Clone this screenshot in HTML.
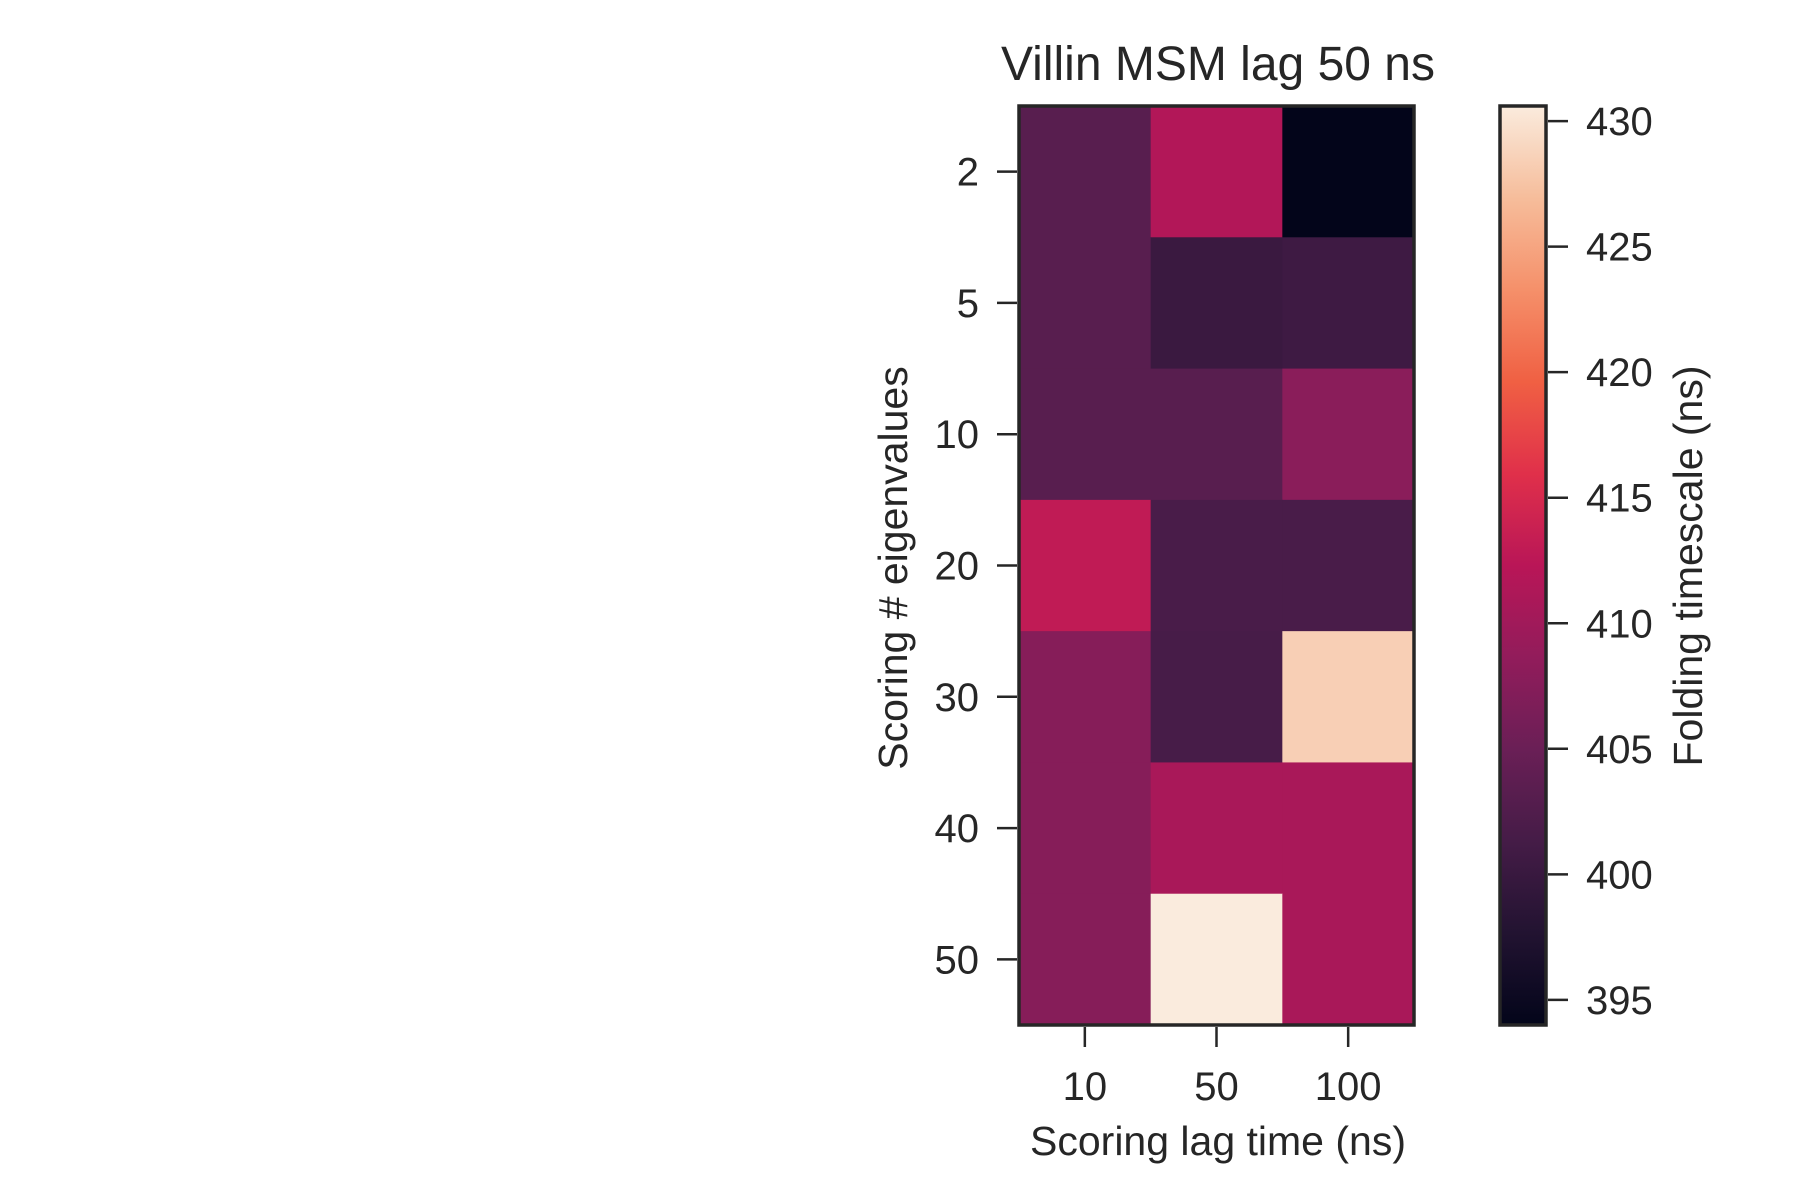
<!DOCTYPE html>
<html><head><meta charset="utf-8"><style>
html,body{margin:0;padding:0;background:#fff;}
svg{display:block;font-family:"Liberation Sans",Arial,sans-serif;fill:#262626;}
</style></head><body>
<svg id="chart" width="1800" height="1200" viewBox="0 0 1800 1200" xmlns="http://www.w3.org/2000/svg">
<defs><linearGradient id="cbgrad" x1="0" y1="1" x2="0" y2="0"></linearGradient></defs>
<rect width="1800" height="1200" fill="#fff"/>
<text x="1218" y="80" font-size="48" text-anchor="middle">Villin MSM lag 50 ns</text>
<g id="cells"></g>
<g id="axes"></g>
<text x="1218" y="1155" font-size="41" text-anchor="middle">Scoring lag time (ns)</text>
<text x="0" y="0" font-size="41" text-anchor="middle" transform="translate(907,568) rotate(-90)">Scoring # eigenvalues</text>
<rect x="1500" y="106" width="46" height="919" fill="url(#cbgrad)" stroke="#262626" stroke-width="3.5"/>
<g id="cbaxis"></g>
<text x="0" y="0" font-size="41" text-anchor="middle" transform="translate(1702,566) rotate(-90)">Folding timescale (ns)</text>
</svg>
<script>
const xCategories = ["10", "50", "100"];
const yCategories = ["2", "5", "10", "20", "30", "40", "50"];
const row2 = [403.2, 411.6, 394.0];
const row5 = [403.2, 400.2, 400.6];
const row10 = [403.2, 403.2, 407.9];
const row20 = [413.0, 401.7, 401.7];
const row30 = [407.5, 401.5, 428.4];
const row40 = [407.5, 410.8, 410.8];
const row50 = [407.5, 430.6, 410.8];
const values = [row2, row5, row10, row20, row30, row40, row50];
const colorbarTicks = [395, 400, 405, 410, 415, 420, 425, 430];
const vmin = 394.0, vmax = 430.6;

const NS = "http://www.w3.org/2000/svg";
const L = 1019, R = 1414, T = 106, B = 1025;
const cw = (R - L) / xCategories.length, ch = (B - T) / yCategories.length;
const stops = [[0,"#03051a"],[0.1,"#221331"],[0.2,"#451c47"],[0.3,"#6a1f56"],[0.4,"#921c5b"],[0.5,"#b91657"],[0.6,"#e0304a"],[0.7,"#f06043"],[0.8,"#f5906a"],[0.9,"#f6bd9b"],[1,"#faebdd"]];
function hex(c){return [1,3,5].map(i=>parseInt(c.substr(i,2),16));}
function cmap(t){t=Math.max(0,Math.min(1,t));for(let i=1;i<stops.length;i++){if(t<=stops[i][0]){const a=stops[i-1],b=stops[i];const f=(t-a[0])/(b[0]-a[0]);const ca=hex(a[1]),cb=hex(b[1]);return "rgb("+ca.map((v,k)=>Math.round(v+(cb[k]-v)*f)).join(",")+")";}}return stops[stops.length-1][1];}
function norm(v){return (v-vmin)/(vmax-vmin);}
function xPos(i){return L + cw*i;}
function yPos(j){return T + ch*j;}
function cbY(v){return B - norm(v)*(B-T);}

const grad=document.getElementById("cbgrad");
stops.forEach(s=>{const st=document.createElementNS(NS,"stop");st.setAttribute("offset",s[0]);st.setAttribute("stop-color",s[1]);grad.appendChild(st);});

const cells=document.getElementById("cells");
values.forEach((row,j)=>row.forEach((v,i)=>{
  const r=document.createElementNS(NS,"rect");
  r.setAttribute("x",xPos(i));r.setAttribute("y",yPos(j));
  r.setAttribute("width",cw+0.5);r.setAttribute("height",ch+0.5);
  r.setAttribute("fill",cmap(norm(v)));
  
  
  cells.appendChild(r);
}));
const frame=document.createElementNS(NS,"rect");
frame.setAttribute("x",L);frame.setAttribute("y",T);frame.setAttribute("width",R-L);frame.setAttribute("height",B-T);
frame.setAttribute("fill","none");frame.setAttribute("stroke","#262626");frame.setAttribute("stroke-width","3.5");


cells.appendChild(frame);

const axes=document.getElementById("axes");
function line(p,x1,y1,x2,y2){const l=document.createElementNS(NS,"line");l.setAttribute("x1",x1);l.setAttribute("y1",y1);l.setAttribute("x2",x2);l.setAttribute("y2",y2);l.setAttribute("stroke","#262626");l.setAttribute("stroke-width","2.5");p.appendChild(l);return l;}
function text(p,x,y,s,anchor){const t=document.createElementNS(NS,"text");t.setAttribute("x",x);t.setAttribute("y",y);t.setAttribute("font-size","40");t.setAttribute("text-anchor",anchor);t.textContent=s;p.appendChild(t);return t;}
xCategories.forEach((c,i)=>{
  const x=xPos(i)+cw/2;
  const tk=line(axes,x,B+2,x,B+22);
  
  
  const t=text(axes,x,1100,c,"middle");
  
  
});
yCategories.forEach((c,j)=>{
  const y=yPos(j)+ch/2;
  const tk=line(axes,L-2,y,L-22,y);
  
  
  const t=text(axes,L-40,y+14,c,"end");
  
  
});
const cbaxis=document.getElementById("cbaxis");
colorbarTicks.forEach(v=>{
  const y=cbY(v);
  const tk=line(cbaxis,1548,y,1568,y);
  
  
  const t=text(cbaxis,1586,y+14,String(v),"start");
  
  
});
</script>
</body></html>
